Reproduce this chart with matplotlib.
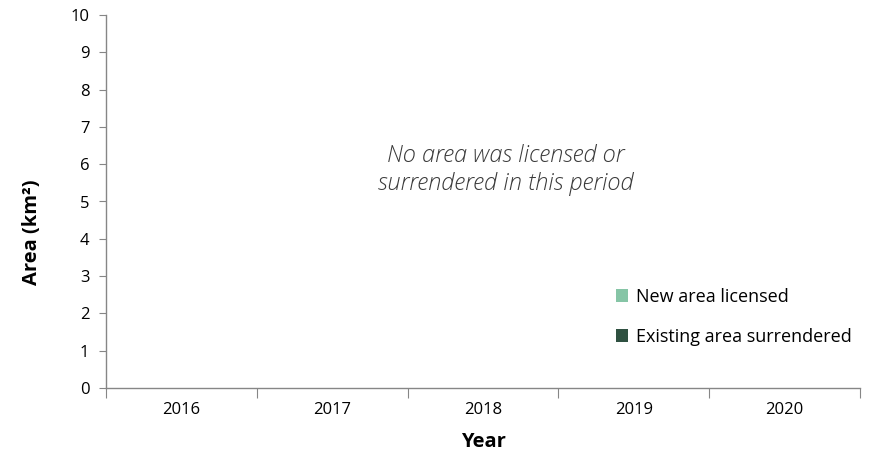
import matplotlib.pyplot as plt
import numpy as np
from matplotlib.ticker import FixedLocator

plt.rcParams['font.family'] = ['Open Sans', 'DejaVu Sans']

years = ['2016', '2017', '2018', '2019', '2020']
new_area = [0, 0, 0, 0, 0]
surrendered = [0, 0, 0, 0, 0]

c_new = '#86c5a6'
c_sur = '#2f5141'
grey = '#868686'

fig = plt.figure(figsize=(8.74, 4.69), dpi=100)
ax = fig.add_axes([106 / 874, 1 - 388 / 469, (860 - 106) / 874, (388 - 15) / 469])

x = np.arange(len(years))
ax.bar(x - 0.2, new_area, width=0.35, color=c_new, label='New area licensed')
ax.bar(x + 0.2, surrendered, width=0.35, color=c_sur, label='Existing area surrendered')

ax.set_xlim(-0.5, len(years) - 0.5)
ax.set_ylim(0, 10)
ax.set_yticks(range(0, 11))

# category boundaries get the ticks, labels sit in the middle
ax.xaxis.set_major_locator(FixedLocator(np.arange(-0.5, len(years), 1.0)))
ax.set_xticklabels([])
ax.xaxis.set_minor_locator(FixedLocator(x))
ax.set_xticklabels(years, minor=True)
ax.tick_params(axis='x', which='major', length=7, color=grey, direction='out')
ax.tick_params(axis='x', which='minor', length=0, pad=10, labelsize=12)
ax.tick_params(axis='y', length=5, color=grey, labelsize=12, pad=7)

for s in ['top', 'right']:
    ax.spines[s].set_visible(False)
for s in ['left', 'bottom']:
    ax.spines[s].set_color(grey)
    ax.spines[s].set_linewidth(1.0)

ax.set_ylabel('Area (km²)', fontsize=14.5, fontweight='bold')
ax.yaxis.set_label_coords(-0.085, 0.418)
ax.set_xlabel('Year', fontsize=14.5, fontweight='bold')
ax.xaxis.set_label_coords(0.5, -(432 - 388) / 373)

ax.text(0.53, 0.585, 'No area was licensed or\nsurrendered in this period',
        transform=ax.transAxes, ha='center', va='center', fontsize=17,
        style='italic', fontweight='light', color='#3a3a3a', linespacing=1.25)

ax.legend(loc='lower right', bbox_to_anchor=(1.01, 0.07), frameon=False,
          fontsize=13, handlelength=0.7, handleheight=0.7, handletextpad=0.4,
          labelspacing=1.2)

fig.savefig('out.png', dpi=100)
